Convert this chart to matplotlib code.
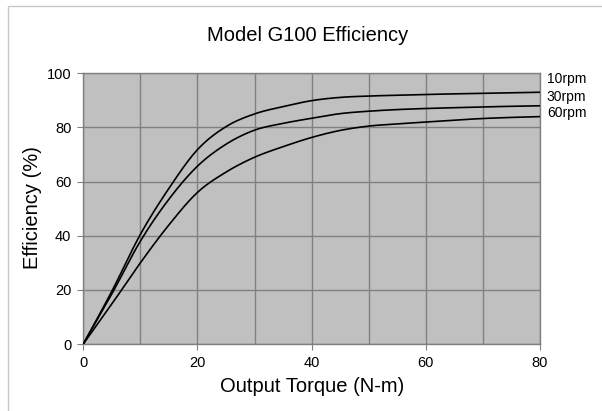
import matplotlib
matplotlib.use("Agg")
import matplotlib.pyplot as plt
import numpy as np
from matplotlib.patches import Rectangle

plt.rcParams['font.family'] = ['Liberation Sans', 'DejaVu Sans']

torque = [0, 5, 10, 15, 20, 25, 30, 35, 40, 45, 50, 55, 60, 65, 70, 75, 80]
eff_10rpm = [0, 19.5, 40.5, 57.5, 71.8, 80.3, 85, 87.7, 89.9, 91.1, 91.6, 91.9, 92.2, 92.4, 92.6, 92.8, 93]
eff_30rpm = [0, 18.5, 38, 53.5, 65.7, 73.8, 79, 81.5, 83.4, 85.1, 86, 86.6, 87, 87.3, 87.6, 87.8, 88]
eff_60rpm = [0, 14.8, 30, 44, 56, 63.5, 69, 72.9, 76.3, 78.9, 80.5, 81.3, 82, 82.7, 83.3, 83.7, 84]
series_names = ['10rpm', '30rpm', '60rpm']
label_y = [97.8, 91.4, 85.2]


def smooth(x, y, n=20):
    # catmull-rom through the read points, like the excel smoothed line
    x = np.asarray(x, float)
    y = np.asarray(y, float)
    px = np.concatenate([[2 * x[0] - x[1]], x, [2 * x[-1] - x[-2]]])
    py = np.concatenate([[2 * y[0] - y[1]], y, [2 * y[-1] - y[-2]]])
    xs, ys = [], []
    t = np.linspace(0, 1, n, endpoint=False)
    for i in range(1, len(px) - 2):
        for arr, out in ((px, xs), (py, ys)):
            p0, p1, p2, p3 = arr[i - 1], arr[i], arr[i + 1], arr[i + 2]
            out.extend(0.5 * (2 * p1 + (-p0 + p2) * t
                              + (2 * p0 - 5 * p1 + 4 * p2 - p3) * t ** 2
                              + (-p0 + 3 * p1 - 3 * p2 + p3) * t ** 3))
    xs.append(x[-1])
    ys.append(y[-1])
    return np.array(xs), np.array(ys)


fig = plt.figure(figsize=(6.02, 4.11), dpi=100)
ax = fig.add_axes([83.3 / 602, 1 - 344 / 411, (540 - 83.3) / 602, (344 - 73.3) / 411])
ax.set_facecolor('#c0c0c0')

for vals in (eff_10rpm, eff_30rpm, eff_60rpm):
    sx, sy = smooth(torque, vals)
    ax.plot(sx, sy, color='black', lw=1.2, zorder=3)

for name, ly in zip(series_names, label_y):
    ax.text(81.2, ly, name, fontsize=10, ha='left', va='center', clip_on=False)

ax.set_xlim(0, 80)
ax.set_ylim(0, 100)
ax.set_xticks(np.arange(0, 81, 20))
ax.set_xticks(np.arange(10, 80, 20), minor=True)
ax.set_yticks(np.arange(0, 101, 20))
ax.grid(True, which='both', color='#808080', lw=1)
ax.set_axisbelow(True)
ax.tick_params(which='both', length=4.5, width=0.8, color='#808080', labelsize=10.5, pad=4)
ax.tick_params(which='minor', length=0)
for s in ax.spines.values():
    s.set_color('#808080')
    s.set_linewidth(1)

fig.text(308 / 602, 1 - 35.5 / 411, 'Model G100 Efficiency', fontsize=14.5, ha='center', va='center')
fig.text(312 / 602, 1 - 386 / 411, 'Output Torque (N-m)', fontsize=14.5, ha='center', va='center')
fig.text(32 / 602, 1 - 208 / 411, 'Efficiency (%)', fontsize=14.5, ha='center', va='center', rotation=90)

fig.patches.append(Rectangle((8 / 602, -0.1), 1.2, 1 - 5.8 / 411 + 0.1, transform=fig.transFigure,
                             fill=False, edgecolor='#c8c8c8', lw=1))

fig.savefig('out.png', dpi=100)
